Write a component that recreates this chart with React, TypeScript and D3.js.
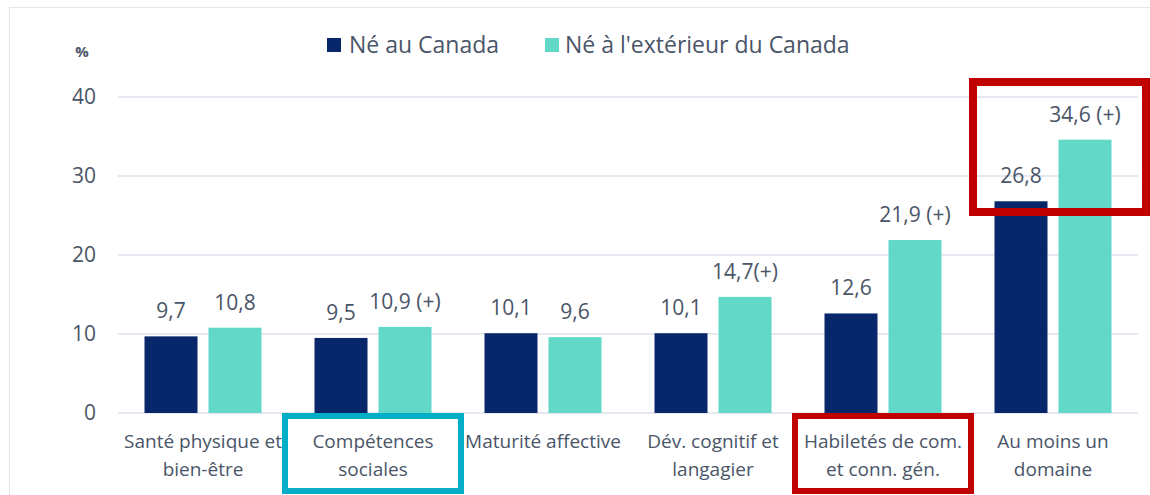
import React from "react";
import * as d3 from "d3";

const categories = [
  ["Santé physique et", "bien-être"],
  ["Compétences", "sociales"],
  ["Maturité affective"],
  ["Dév. cognitif et", "langagier"],
  ["Habiletés de com.", "et conn. gén."],
  ["Au moins un", "domaine"],
];
const bornCanada = [9.7, 9.5, 10.1, 10.1, 12.6, 26.8];
const bornAbroad = [10.8, 10.9, 9.6, 14.7, 21.9, 34.6];
const labelsCanada = ["9,7", "9,5", "10,1", "10,1", "12,6", "26,8"];
const labelsAbroad = ["10,8", "10,9 (+)", "9,6", "14,7(+)", "21,9 (+)", "34,6 (+)"];
const yTicks = [0, 10, 20, 30, 40];
const seriesNames = ["Né au Canada", "Né à l'extérieur du Canada"];

const W = 1150;
const H = 495;
const NAVY = "#08266a";
const TEAL = "#62d8c8";
const TEXT = "#4a5568";
const GRID = "#dde1e9";
const FONT = "'Open Sans', 'Noto Sans', sans-serif";

export default function App() {
  const x = d3.scaleBand<number>().domain(d3.range(categories.length)).range([118, 1138]);
  const y = d3.scaleLinear().domain([0, 40]).range([413, 97]);
  const barW = 53;
  const gap = 11;
  const groupOffset = (x.bandwidth() - (2 * barW + gap)) / 2;

  return (
    <svg width={W} height={H} style={{ position: "absolute", left: 0, top: 0, background: "#fff" }} fontFamily={FONT}>
      <rect x={9.5} y={7.5} width={1200} height={600} fill="none" stroke="#e6e6e6" strokeWidth={1} />
      {yTicks.map((t) => (
        <line key={t} x1={118} x2={1138} y1={y(t)} y2={y(t)} stroke={GRID} strokeWidth={1.3} />
      ))}
      {yTicks.map((t) => (
        <text key={"t" + t} x={96} y={y(t)} dy="0.35em" textAnchor="end" fontSize={21} fill={TEXT}>
          {t}
        </text>
      ))}
      <text x={82} y={52} dy="0.35em" textAnchor="middle" fontSize={15} fontWeight="bold" fill={TEXT}>
        %
      </text>
      {/* legend */}
      <rect x={327} y={38} width={14} height={14} fill={NAVY} />
      <text x={349} y={45} dy="0.35em" fontSize={23} fill={TEXT}>{seriesNames[0]}</text>
      <rect x={545} y={38} width={14} height={14} fill={TEAL} />
      <text x={565} y={45} dy="0.35em" fontSize={23} fill={TEXT}>{seriesNames[1]}</text>
      {/* bars */}
      {categories.map((_, i) => {
        const x0 = (x(i) as number) + groupOffset;
        const x1 = x0 + barW + gap;
        return (
          <g key={"b" + i}>
            <rect x={x0} y={y(bornCanada[i])} width={barW} height={y(0) - y(bornCanada[i])} fill={NAVY} />
            <rect x={x1} y={y(bornAbroad[i])} width={barW} height={y(0) - y(bornAbroad[i])} fill={TEAL} />
            <text x={x0 + barW / 2} y={y(bornCanada[i]) - 18} textAnchor="middle" fontSize={21} fill={TEXT}>
              {labelsCanada[i]}
            </text>
            <text x={x1 + barW / 2} y={y(bornAbroad[i]) - 18} textAnchor="middle" fontSize={21} fill={TEXT}>
              {labelsAbroad[i]}
            </text>
          </g>
        );
      })}
      {/* category labels */}
      {categories.map((lines, i) => {
        const cx = (x(i) as number) + x.bandwidth() / 2;
        return (
          <text key={"c" + i} x={cx} textAnchor="middle" fontSize={19} fill={TEXT}>
            {lines.map((l, j) => (
              <tspan key={j} x={cx} y={448 + j * 28}>
                {l}
              </tspan>
            ))}
          </text>
        );
      })}
      {/* highlight boxes */}
      <rect x={(x(1) as number) + x.bandwidth() / 2 - 88} y={416} width={176} height={75} fill="none" stroke="#00aec7" strokeWidth={6} />
      <rect x={(x(4) as number) + x.bandwidth() / 2 - 88} y={416} width={176} height={75} fill="none" stroke="#c00000" strokeWidth={6} />
      <rect x={973} y={82} width={173} height={130} fill="none" stroke="#c00000" strokeWidth={8} />
    </svg>
  );
}
